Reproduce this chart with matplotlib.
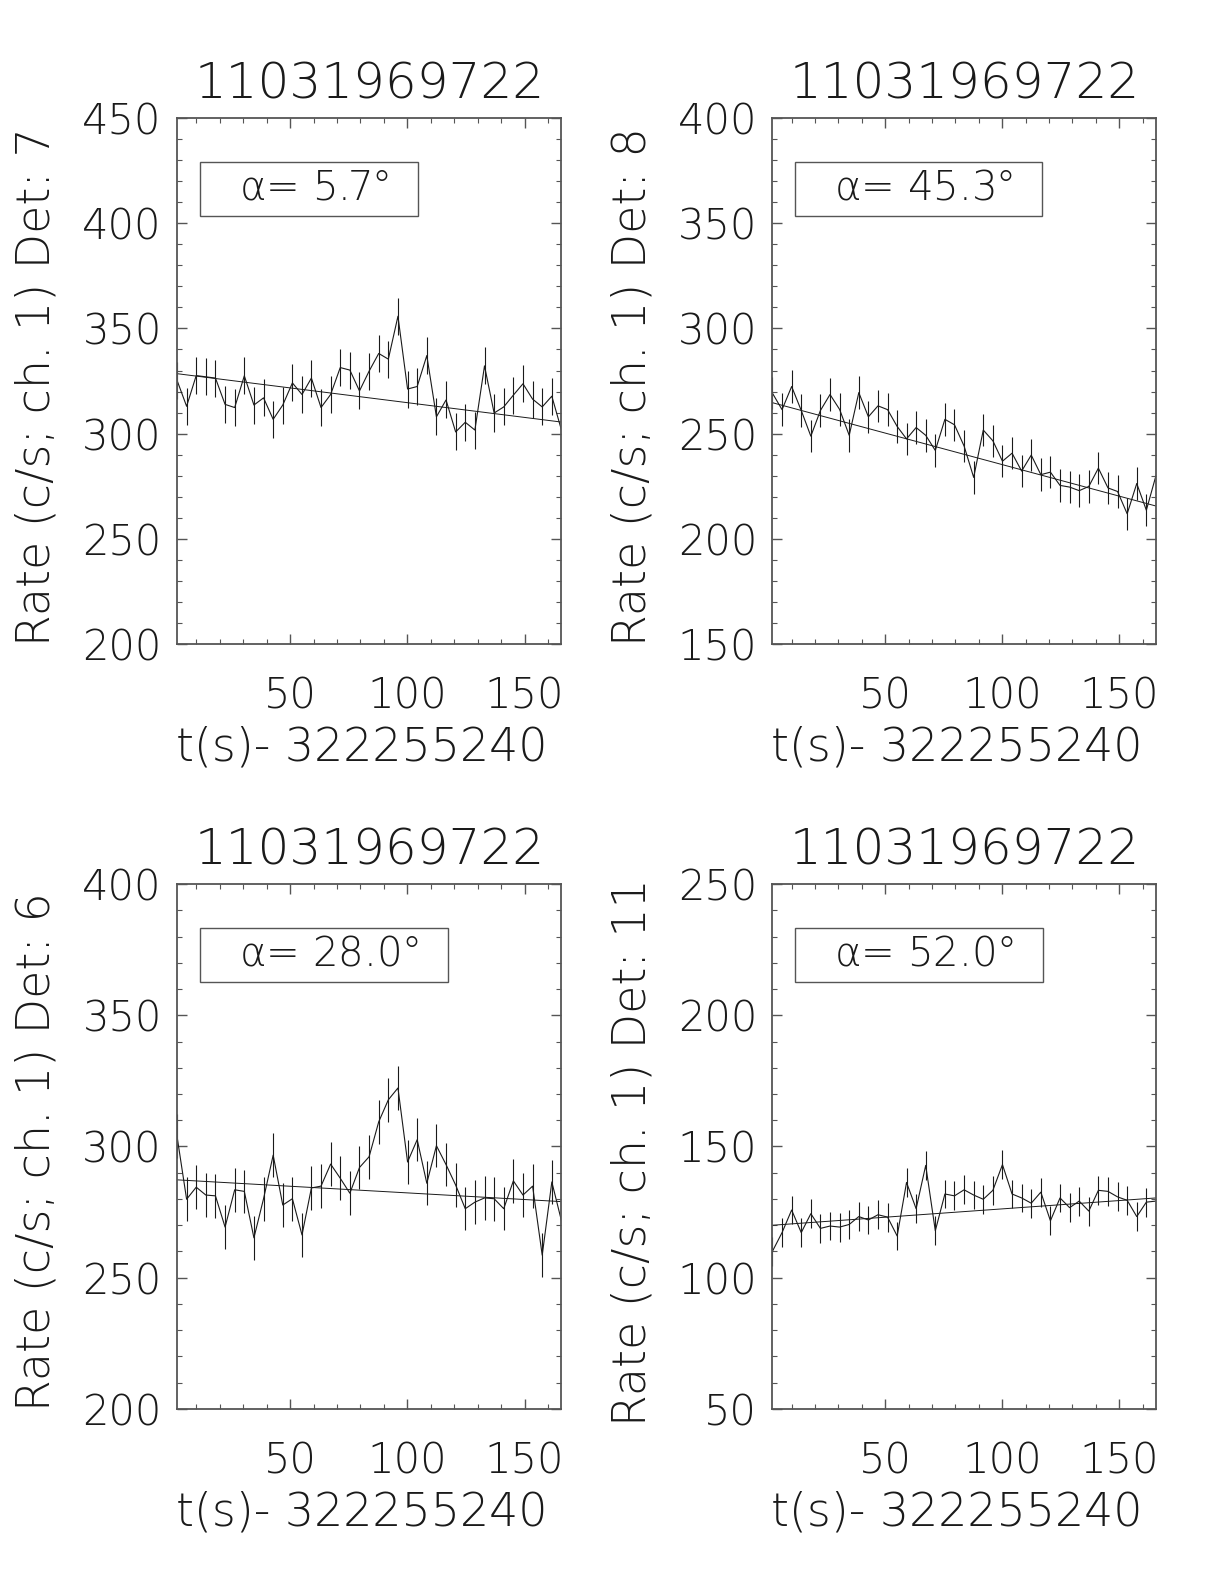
import matplotlib
matplotlib.use("Agg")
import matplotlib.pyplot as plt
import matplotlib.font_manager as fm
from matplotlib.patches import Rectangle
from matplotlib.ticker import MultipleLocator

# pick a thin font that looks close to the IDL Hershey strokes
thin = [f for f in fm.fontManager.ttflist if f.name == "DejaVu Sans" and f.weight <= 300]
if thin:
    FAMILY, WEIGHT = "DejaVu Sans", thin[0].weight
else:
    FAMILY, WEIGHT = "Roboto", 300

plt.rcParams["font.family"] = [FAMILY, "DejaVu Sans"]
plt.rcParams["font.weight"] = WEIGHT
plt.rcParams["axes.titleweight"] = WEIGHT
plt.rcParams["axes.labelweight"] = WEIGHT
plt.rcParams["mathtext.fontset"] = "custom"
plt.rcParams["mathtext.rm"] = f"{FAMILY}:weight={WEIGHT}"
plt.rcParams["mathtext.it"] = f"{FAMILY}:weight={WEIGHT}"

# bin times, t(s) - 322255240
t = [1.8, 5.9, 10.0, 14.1, 18.2, 22.3, 26.4, 30.5, 34.6, 38.7, 42.8,
     46.9, 51.0, 55.1, 59.1, 63.2, 67.3, 71.4, 75.5, 79.6, 83.7, 87.8,
     91.9, 96.0, 100.1, 104.2, 108.3, 112.4, 116.5, 120.6, 124.7, 128.8,
     132.9, 137.0, 141.1, 145.2, 149.3, 153.4, 157.5, 161.6, 165.7]

rate_det7 = [325.4, 313.0, 327.6, 327.0, 326.4, 313.9, 312.4, 327.5, 313.6, 317.0,
             306.8, 313.6, 324.1, 318.6, 326.4, 312.4, 318.6, 331.4, 330.2, 320.3,
             329.7, 338.1, 335.4, 355.8, 321.2, 322.4, 337.1, 308.0, 316.0, 300.8,
             305.4, 301.7, 332.2, 309.8, 312.7, 318.3, 323.7, 316.4, 312.7, 317.8,
             301.7]
rate_det8 = [269.2, 261.4, 272.4, 261.0, 248.8, 261.0, 268.6, 261.5, 249.2, 269.5,
             258.0, 263.2, 261.4, 253.4, 247.5, 252.9, 249.2, 242.0, 256.8, 254.2,
             244.1, 229.2, 251.7, 246.6, 236.9, 240.7, 232.2, 239.8, 230.5, 231.7,
             225.4, 224.6, 222.9, 224.9, 233.6, 224.2, 222.5, 211.9, 226.3, 213.6,
             230.0]
rate_det6 = [304.0, 279.9, 284.5, 281.5, 281.2, 269.3, 283.5, 282.9, 265.2, 280.1,
             296.7, 277.7, 280.1, 266.3, 284.2, 284.9, 293.3, 287.9, 282.2, 292.0,
             296.1, 309.4, 317.8, 322.3, 294.1, 302.6, 286.0, 300.3, 293.1, 285.3,
             276.3, 278.8, 280.4, 280.1, 276.3, 286.9, 281.5, 284.9, 258.6, 286.5,
             271.7]
rate_det11 = [110.1, 117.2, 125.8, 117.2, 124.4, 118.8, 119.7, 119.3, 120.3, 123.3,
              122.0, 124.0, 123.1, 115.9, 136.3, 126.3, 142.8, 117.9, 131.9, 131.2,
              133.5, 131.5, 129.9, 133.3, 143.1, 131.9, 130.4, 128.4, 132.6, 121.7,
              130.4, 126.7, 129.2, 125.4, 133.3, 132.9, 130.8, 129.5, 123.3, 128.8,
              129.2]

# typical 1-sigma error per detector (c/s)
err = [8.8, 7.7, 8.3, 5.5]
# linear background fit, value at first and last bin
fit_start = [328.5, 264.7, 287.3, 120.0]
fit_end = [305.5, 215.6, 279.0, 130.4]

detectors = ["7", "8", "6", "11"]
alphas = ["5.7", "45.3", "28.0", "52.0"]
ylims = [(200, 450), (150, 400), (200, 400), (50, 250)]
rates = [rate_det7, rate_det8, rate_det6, rate_det11]
title = "11031969722"
xlabel = "t(s)- 322255240"

INK = "#1a1a1a"
FRAME = "#555555"

fig = plt.figure(figsize=(12.24, 15.84), dpi=100)
positions = [
    [0.1446, 0.5934, 0.3141, 0.3321],
    [0.6311, 0.5934, 0.3133, 0.3321],
    [0.1446, 0.1105, 0.3141, 0.3314],
    [0.6311, 0.1105, 0.3133, 0.3314],
]

texts = []
axes = []
for k in range(4):
    ax = fig.add_axes(positions[k])
    axes.append(ax)
    ax.errorbar(t, rates[k], yerr=err[k], color=INK, lw=0.8, elinewidth=0.8,
                capsize=0)
    ax.plot([t[0], t[-1]], [fit_start[k], fit_end[k]], color=INK, lw=0.7)
    ax.set_xlim(t[0], t[-1])
    ax.set_ylim(*ylims[k])

    ax.xaxis.set_major_locator(MultipleLocator(50))
    ax.xaxis.set_minor_locator(MultipleLocator(10))
    ax.yaxis.set_major_locator(MultipleLocator(50))
    ax.yaxis.set_minor_locator(MultipleLocator(10))
    ax.tick_params(which="both", direction="in", top=True, right=True,
                   color=FRAME, labelcolor=INK, labelsize=30)
    ax.tick_params(which="major", length=7, width=1.0)
    ax.tick_params(which="minor", length=3.5, width=0.8)
    ax.tick_params(axis="x", pad=23)
    ax.tick_params(axis="y", pad=11)
    for s in ax.spines.values():
        s.set_color(FRAME)
        s.set_linewidth(1.3)

    ax.set_title(title, fontsize=36, color=INK, pad=14)
    lab = ax.set_xlabel(xlabel, fontsize=33, color=INK)
    lab.set_va("baseline")
    ax.xaxis.set_label_coords(0.48, -0.222)
    ylab = ax.set_ylabel(f"Rate (c/s; ch. 1) Det: {detectors[k]}", fontsize=33,
                         color=INK)
    ylab.set_va("center")
    ax.yaxis.set_label_coords(-0.365, 0.49)

    txt = ax.text(0.161, 0.867, r"$\alpha$= " + alphas[k] + "°", fontsize=29,
                  color=INK, transform=ax.transAxes, va="center", ha="left")
    texts.append(txt)

# frame around the angle label, sized to the text
fig.canvas.draw()
for ax, txt in zip(axes, texts):
    bb = txt.get_window_extent().transformed(ax.transAxes.inverted())
    ax.add_patch(Rectangle((0.06, 0.814), bb.x1 + 0.075 - 0.06, 0.103,
                           transform=ax.transAxes, fill=False, ec=FRAME, lw=1.0))

fig.savefig("out.png", dpi=100)
